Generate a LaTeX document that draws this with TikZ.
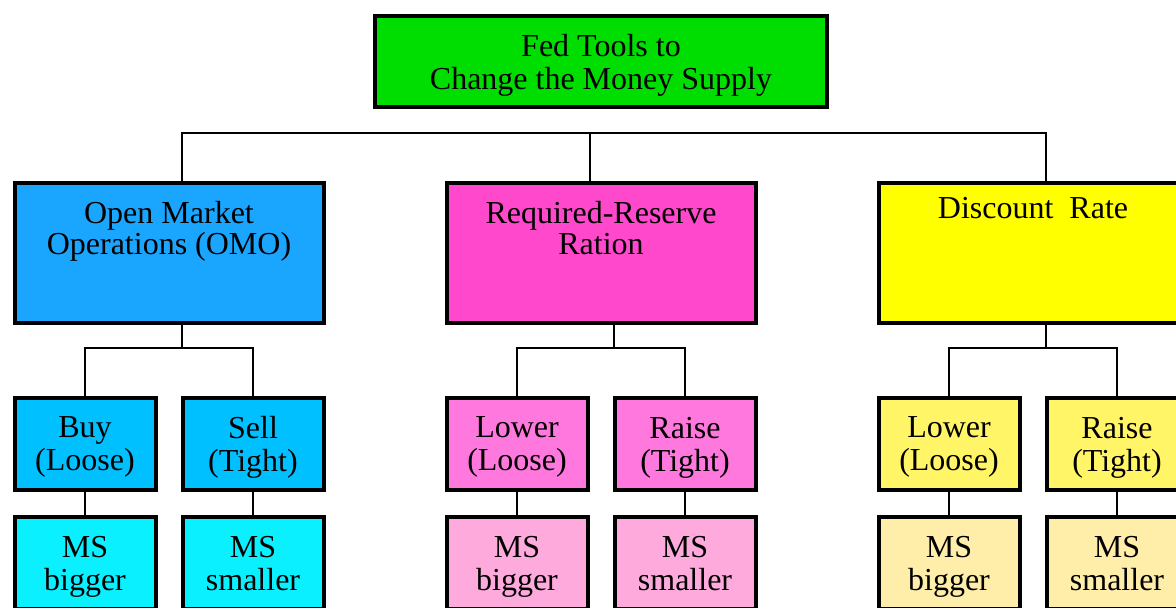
\documentclass[tikz,border=0pt]{standalone}
\usepackage{fontspec}
\setmainfont{Liberation Serif}
\usetikzlibrary{positioning}

\definecolor{fedgreen}{HTML}{00DD00}
\definecolor{omoblue}{HTML}{1AA6FF}
\definecolor{omomove}{HTML}{00C0FF}
\definecolor{omoms}{HTML}{0AF0FF}
\definecolor{rrrpink}{HTML}{FF48CC}
\definecolor{rrrmove}{HTML}{FF78DD}
\definecolor{rrrms}{HTML}{FFAADD}
\definecolor{dryellow}{HTML}{FFFF00}
\definecolor{drmove}{HTML}{FFF566}
\definecolor{drms}{HTML}{FFEEAA}

\begin{document}
\begin{tikzpicture}[x=0.5pt, y=-0.5pt,
    box/.style={draw, line width=2pt, fill=#1, inner sep=0pt, align=center, text depth=0pt, font=\fontsize{16}{16.5}\selectfont},
    fedbox/.style={box=fedgreen, minimum width=226pt, minimum height=45.5pt},
    toolbox/.style={box=#1, minimum width=154.5pt, minimum height=70pt},
    movebox/.style={box=#1, minimum width=70.5pt, minimum height=46pt},
    tooltxt/.style={inner sep=0pt, align=center, font=\fontsize{16}{15.5}\selectfont},
    link/.style={line width=1pt},
    node distance=11.5pt
  ]
    \clip (0,0) rectangle (1176,608);

    \node[fedbox] (fed) at (601,61.5) {Fed Tools to\\Change the Money Supply};

    \node[toolbox=rrrpink,  below=36pt of fed]   (rrr) {};
    \node[toolbox=omoblue,  left=59.5pt of rrr]  (omo) {};
    \node[toolbox=dryellow, right=59.5pt of rrr] (dr)  {};
    \node[tooltxt, below=10pt of omo.north] (omo-txt) {Open Market\\Operations (OMO)};
    \node[tooltxt, below=10pt of rrr.north] (rrr-txt) {Required-Reserve\\Ration};
    \node[tooltxt, below=8pt of dr.north]   (dr-txt)  {Discount\ \ Rate};

    \node[movebox=omomove, below right=35.5pt and 0pt of omo.south west] (omo-buy)  {Buy\\(Loose)};
    \node[movebox=omomove, right=of omo-buy]                            (omo-sell) {Sell\\(Tight)};
    \node[movebox=rrrmove, below right=35.5pt and 0pt of rrr.south west] (rrr-lower) {Lower\\(Loose)};
    \node[movebox=rrrmove, right=of rrr-lower]                          (rrr-raise) {Raise\\(Tight)};
    \node[movebox=drmove,  below right=35.5pt and 0pt of dr.south west]  (dr-lower)  {Lower\\(Loose)};
    \node[movebox=drmove,  right=of dr-lower]                           (dr-raise)  {Raise\\(Tight)};

    \node[movebox=omoms, below=of omo-buy]   (omo-buy-ms)   {MS\\bigger};
    \node[movebox=omoms, below=of omo-sell]  (omo-sell-ms)  {MS\\smaller};
    \node[movebox=rrrms, below=of rrr-lower] (rrr-lower-ms) {MS\\bigger};
    \node[movebox=rrrms, below=of rrr-raise] (rrr-raise-ms) {MS\\smaller};
    \node[movebox=drms,  below=of dr-lower]  (dr-lower-ms)  {MS\\bigger};
    \node[movebox=drms,  below=of dr-raise]  (dr-raise-ms)  {MS\\smaller};

    % bus under the title box (the title itself is not joined)
    \coordinate (bus) at (590,133);
    \draw[link] ([xshift=6.25pt]omo.north) |- (bus) -| ([xshift=6.25pt]dr.north);
    \draw[link] (bus) -- (bus |- rrr.north);

    % tool -> moves
    \coordinate (omo-j) at ([shift={(6.25pt,-11.5pt)}]omo.south);
    \coordinate (rrr-j) at ([shift={(6.25pt,-11.5pt)}]rrr.south);
    \coordinate (dr-j)  at ([shift={(6.25pt,-11.5pt)}]dr.south);
    \draw[link] (omo-j |- omo.south) -- (omo-j);
    \draw[link] (rrr-j |- rrr.south) -- (rrr-j);
    \draw[link] (dr-j |- dr.south) -- (dr-j);
    \draw[link] (omo-buy.north)   |- (omo-j) -| (omo-sell.north);
    \draw[link] (rrr-lower.north) |- (rrr-j) -| (rrr-raise.north);
    \draw[link] (dr-lower.north)  |- (dr-j)  -| (dr-raise.north);

    % moves -> money supply
    \draw[link] (omo-buy)   -- (omo-buy-ms);
    \draw[link] (omo-sell)  -- (omo-sell-ms);
    \draw[link] (rrr-lower) -- (rrr-lower-ms);
    \draw[link] (rrr-raise) -- (rrr-raise-ms);
    \draw[link] (dr-lower)  -- (dr-lower-ms);
    \draw[link] (dr-raise)  -- (dr-raise-ms);
  \end{tikzpicture}
\end{document}
